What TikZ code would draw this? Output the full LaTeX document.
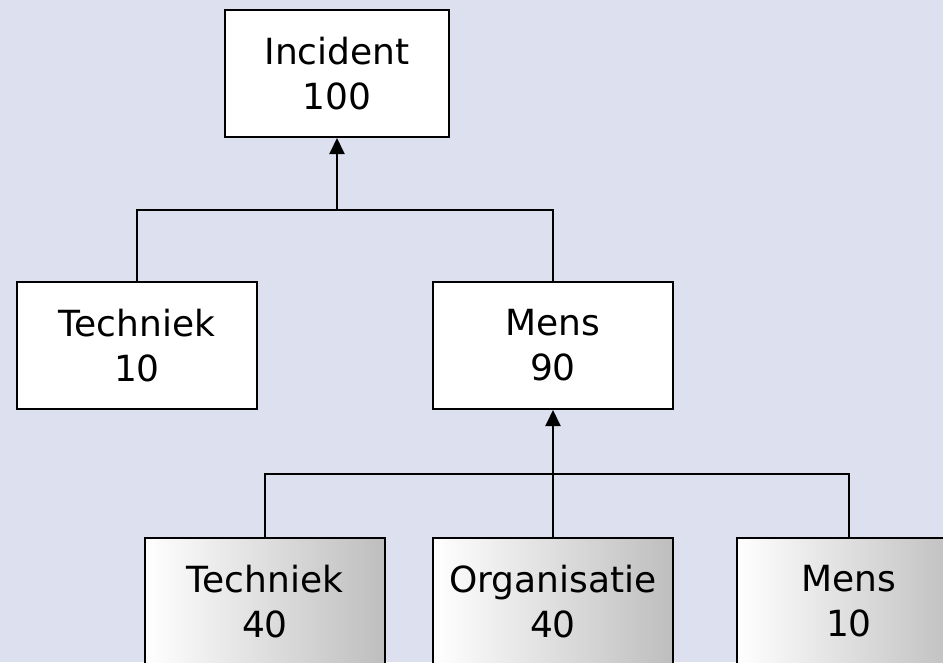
\documentclass[tikz,border=0pt]{standalone}
\usepackage{fontspec}
\setmainfont{DejaVu Sans}
\usetikzlibrary{arrows.meta}
\definecolor{bgcol}{RGB}{221,224,239}
\definecolor{shadegray}{RGB}{190,190,190}
\tikzset{
  x=1pt,y=1pt,
  box/.style={draw=black,line width=2pt,fill=white,inner sep=0pt,
    minimum width=240pt,minimum height=127pt,align=center,
    font=\fontsize{36pt}{45pt}\selectfont},
  shadedbox/.style={box,left color=white,right color=shadegray},
  link/.style={line width=2pt},
  uparrow/.style={link,-{Triangle[length=16pt,width=15pt]}}
}
\begin{document}
\begin{tikzpicture}
\useasboundingbox (0,0) rectangle (943,-662);
\fill[bgcol] (0,0) rectangle (943,-662);
\clip (0,0) rectangle (943,-662);
\node[box,minimum width=224pt] (inc) at (337,-73.5) {Incident\\100};
\node[box] (tech) at (137,-345.5) {Techniek\\10};
\node[box] (mens) at (553,-345.5) {Mens\\90};
\node[shadedbox] (t40) at (265,-601.5) {Techniek\\40};
\node[shadedbox] (org) at (553,-601.5) {Organisatie\\40};
\node[shadedbox,minimum width=224pt] (m10) at (849,-601.5) {Mens\\10};
\coordinate (j1) at (337,-210);
\coordinate (j2) at (553,-474);
\draw[link] (tech.north) |- (j1) -| (mens.north);
\draw[uparrow] (j1) -- (inc.south);
\draw[link] (t40.north) |- (j2) -| (m10.north);
\draw[uparrow] (org.north) -- (mens.south);
\end{tikzpicture}
\end{document}
